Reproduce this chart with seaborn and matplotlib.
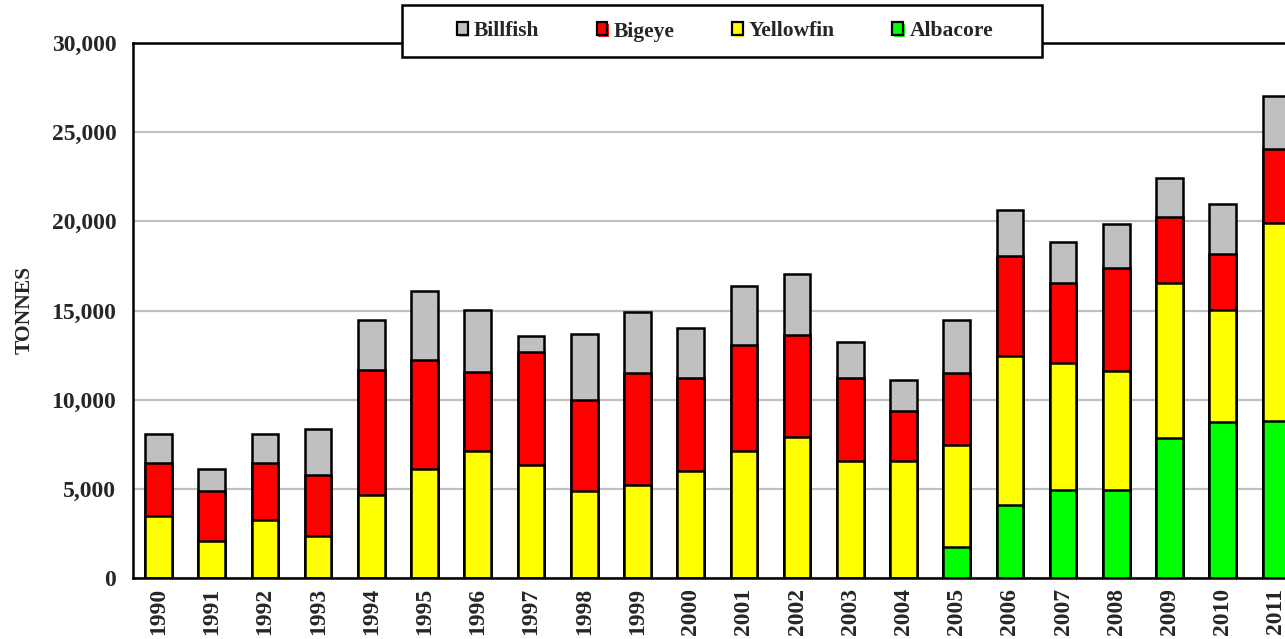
import numpy as np
import pandas as pd
import matplotlib
matplotlib.use("Agg")
import matplotlib.pyplot as plt
from matplotlib.patches import Rectangle
import matplotlib.patheffects as pe
import seaborn as sns

years = [str(y) for y in range(1990, 2012)]
albacore = [0, 0, 0, 0, 0, 0, 0, 0, 0, 0, 0, 0, 0, 0, 0,
            1750, 4120, 4920, 4920, 7850, 8740, 8820]
yellowfin = [3450, 2090, 3230, 2330, 4680, 6140, 7140, 6360, 4900, 5230, 6020,
             7140, 7930, 6580, 6570, 5690, 8310, 7160, 6710, 8720, 6290, 11110]
bigeye = [3020, 2790, 3240, 3450, 6970, 6070, 4400, 6300, 5060, 6290, 5180,
          5950, 5720, 4610, 2810, 4060, 5600, 4490, 5730, 3690, 3130, 4140]
billfish = [1580, 1260, 1580, 2590, 2800, 3910, 3470, 890, 3730, 3370, 2800,
            3260, 3370, 2030, 1710, 2970, 2590, 2260, 2480, 2150, 2800, 2960]

species = ["Billfish", "Bigeye", "Yellowfin", "Albacore"]
colors = {"Billfish": "#C0C0C0", "Bigeye": "#FF0000",
          "Yellowfin": "#FFFF00", "Albacore": "#00FF00"}

sns.set_theme(style="white")
plt.rcParams["font.family"] = ["Liberation Serif", "DejaVu Serif"]
plt.rcParams["font.weight"] = "bold"
plt.rcParams["axes.labelweight"] = "bold"

# stacked from bottom: albacore, yellowfin, bigeye, billfish
stack = np.array([albacore, yellowfin, bigeye, billfish], dtype=float)
cum = np.cumsum(stack, axis=0)
df = pd.DataFrame({"year": years,
                   "Albacore": cum[0], "Yellowfin": cum[1],
                   "Bigeye": cum[2], "Billfish": cum[3]})

fig = plt.figure(figsize=(12.85, 6.39), dpi=100)
ax = fig.add_axes([133 / 1285, 61 / 639, 1 - 133 / 1285, 535 / 639])

for name in ["Billfish", "Bigeye", "Yellowfin", "Albacore"]:
    sns.barplot(data=df, x="year", y=name, order=years, color=colors[name],
                saturation=1, width=0.5, edgecolor="black", linewidth=1.8,
                ax=ax, zorder=3)

ax.set_ylim(0, 30000)
ax.set_xlim(-0.48, 21.17)
ax.set_yticks(np.arange(0, 30001, 5000))
ax.set_yticklabels([f"{v:,}" for v in range(0, 30001, 5000)])
ax.yaxis.grid(True, color="#C0C0C0", linewidth=1.6, zorder=0)
ax.set_axisbelow(True)
ax.tick_params(axis="y", length=0, pad=12, labelsize=17)
ax.tick_params(axis="x", length=0, pad=7, labelsize=17, rotation=90)
for lab in ax.get_xticklabels() + ax.get_yticklabels():
    lab.set_fontweight("bold")
ax.set_xlabel("")
ax.set_ylabel("TONNES", fontsize=15.5, fontweight="bold",
              fontfamily="Liberation Serif")
ax.yaxis.label.set_fontweight("bold")
ax.yaxis.set_label_coords(-0.085, 0.5)

for s in ["left", "bottom", "top"]:
    ax.spines[s].set_visible(True)
    ax.spines[s].set_color("black")
    ax.spines[s].set_linewidth(1.8)
ax.spines["right"].set_visible(False)

# legend box
box = Rectangle((402 / 1285, 1 - 57 / 639), 640 / 1285, 52 / 639,
                transform=fig.transFigure, facecolor="white",
                edgecolor="black", linewidth=1.8, zorder=10, clip_on=False)
fig.add_artist(box)

handles = []
for s in species:
    h = Rectangle((0, 0), 1, 1, facecolor=colors[s], edgecolor="black",
                  linewidth=1.6)
    h.set_path_effects([pe.SimplePatchShadow(offset=(1.2, -1.2),
                                             shadow_rgbFace=colors[s], alpha=0.9),
                        pe.Normal()])
    handles.append(h)
leg = fig.legend(handles, species, loc="center", ncol=4,
                 bbox_to_anchor=(725 / 1285, 1 - 31.5 / 639),
                 frameon=False, handlelength=0.5,
                 handleheight=0.55, handletextpad=0.3, columnspacing=2.65,
                 prop={"weight": "bold", "size": 15.5})
leg.set_zorder(11)

fig.savefig("out.png", dpi=100)
